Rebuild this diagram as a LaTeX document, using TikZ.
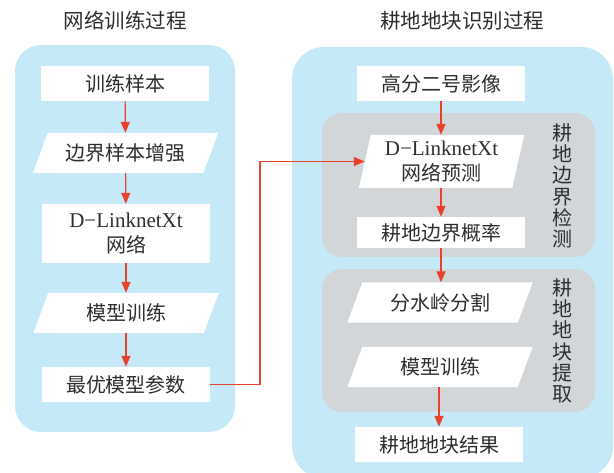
\documentclass[tikz,border=0pt]{standalone}
\usepackage{fontspec}
\setmainfont{Noto Sans CJK SC}
\newfontfamily\latfont{Liberation Serif}
\usetikzlibrary{arrows.meta}
\pgfdeclarelayer{panel}
\pgfdeclarelayer{bg}
\pgfsetlayers{panel,bg,main}
\definecolor{panelblue}{HTML}{C6E9F8}
\definecolor{boxgray}{HTML}{D3D6D9}
\definecolor{arrred}{HTML}{E8412C}
\definecolor{txt}{HTML}{2E2E2E}
\tikzset{
  base/.style={inner sep=0pt, text=txt, font=\fontsize{20}{25}\selectfont, align=center},
  whitebox/.style={base, fill=white, minimum width=168pt, minimum height=35pt},
  parabox/.style={base, minimum width=170pt, minimum height=40pt},
  title/.style={base, font=\fontsize{20.5}{24}\selectfont},
  vlabel/.style={base, font=\fontsize{20}{21.3}\selectfont},
  arr/.style={draw=arrred, line width=1.2pt, -{Triangle[length=11pt,width=9pt]}},
}
\newcommand{\lt}[1]{{\latfont\fontsize{21}{25}\selectfont #1}}
\begin{document}
\begin{tikzpicture}[x=1pt,y=-1pt]
\useasboundingbox (0,0) rectangle (614,473);

% titles
\node[title] (t1) at (125,21) {网络训练过程};
\node[title] (t2) at (462,21) {耕地地块识别过程};

% panels
\begin{pgfonlayer}{panel}
\fill[panelblue, rounded corners=26pt] (15,45) rectangle (235,432);
\fill[panelblue, rounded corners=32pt] (292,47) rectangle (613,478);
\fill[boxgray, rounded corners=20pt] (322,113) rectangle (595,257);
\fill[boxgray, rounded corners=20pt] (322,269) rectangle (595,412);
\end{pgfonlayer}

% left column
\node[whitebox] (n1) at (125,83.5) {训练样本};
\node[parabox] (n2) at (125.5,153) {边界样本增强};
\node[whitebox, minimum height=59pt] (n3) at (126,233.5) {\lt{D−LinknetXt}\\网络};
\node[parabox] (n4) at (126,313) {模型训练};
\node[whitebox] (n5) at (126,384.5) {最优模型参数};

% right column
\node[whitebox] (r1) at (441,83.5) {高分二号影像};
\node[parabox, minimum width=153pt, minimum height=53pt] (r2) at (441.5,161.5) {\lt{D−LinknetXt}\\网络预测};
\node[whitebox, minimum height=31pt] (r3) at (441,232.5) {耕地边界概率};
\node[parabox] (r4) at (440,302.5) {分水岭分割};
\node[parabox] (r5) at (440,367) {模型训练};
\node[whitebox] (r6) at (439,444.5) {耕地地块结果};

\node[vlabel] (v1) at (562,186) {耕\\地\\边\\界\\检\\测};
\node[vlabel] (v2) at (562,341) {耕\\地\\地\\块\\提\\取};

% parallelogram backgrounds
\begin{pgfonlayer}{bg}
\foreach \n/\s in {n2/7.5, n4/7.5, r2/6, r4/7.5, r5/7.5}{
  \fill[white] ([xshift=-\s pt]\n.south west) -- ([xshift=-\s pt]\n.south east)
    -- ([xshift=\s pt]\n.north east) -- ([xshift=\s pt]\n.north west) -- cycle;
}
\end{pgfonlayer}

% connectors
\draw[arr] (n1) -- (n2);
\draw[arr] (n2) -- (n3);
\draw[arr] (n3) -- (n4);
\draw[arr] (n4) -- (n5);
\coordinate (bend) at (260,0);
\draw[arr] (n5.east) -- (n5.east -| bend) |- (r2.west);
\draw[arr] (r1) -- (r1 |- r2.north);
\draw[arr] (r2.south -| r1) -- (r1 |- r3.north);
\draw[arr] (r3.south) -- (r3.south |- r4.north);
\draw[arr] (r5.south -| r6) -- (r6.north);
\end{tikzpicture}
\end{document}
